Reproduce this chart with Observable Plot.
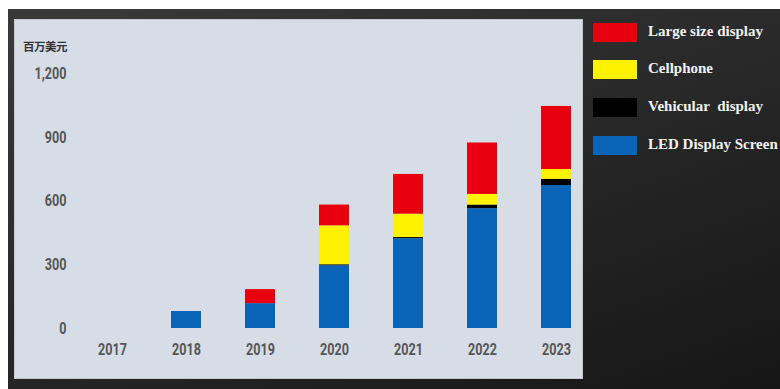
<!DOCTYPE html>
<html>
<head>
<meta charset="utf-8">
<script src="https://cdn.jsdelivr.net/npm/d3@7"></script>
<script src="https://cdn.jsdelivr.net/npm/@observablehq/plot@0.6"></script>
<style>
  html, body { margin: 0; padding: 0; background: #ffffff; }
  #page { position: relative; width: 780px; height: 389px; overflow: hidden; background: #ffffff; }
  #frame { position: absolute; left: 8px; top: 9px; width: 772px; height: 380px;
           background: linear-gradient(160deg, #3a3a3a 0%, #262626 55%, #161616 100%); }
  #panel { position: absolute; left: 15px; top: 20px; width: 567px; height: 358px;
           background: #d6dde7; box-shadow: 0 0 0 1px #c4c9d0; }
  #chart { position: absolute; left: 0; top: 0; width: 620px; height: 389px; }
  #ylabel { position: absolute; left: 23px; top: 38px; font-family: "Noto Sans CJK SC", sans-serif;
            font-weight: 700; font-size: 11.5px; color: #333; letter-spacing: -0.5px; }
  #legend { position: absolute; left: 593px; top: 23px; }
  .item { position: absolute; left: 0; height: 19px; white-space: pre; }
  .sw { position: absolute; left: 0; top: 0; width: 44px; height: 19px; }
  .lab { position: absolute; left: 55px; top: -1px; line-height: 19px; font-family: "Liberation Serif", "Times New Roman", serif;
         font-weight: 700; font-size: 15px; color: #f2f2f2; }
</style>
</head>
<body>
<div id="page">
  <div id="frame"></div>
  <div id="panel"></div>
  <div id="chart"></div>
  <div id="ylabel">百万美元</div>
  <div id="legend"></div>
</div>
<script>
const years = ["2017", "2018", "2019", "2020", "2021", "2022", "2023"];
const seriesNames = ["LED Display Screen", "Vehicular display", "Cellphone", "Large size display"];
const seriesColors = ["#0a64b8", "#000000", "#fff200", "#e8000e"];
const ledDisplay = [0, 80, 117, 295, 423, 564, 673];
const vehicular = [0, 0, 0, 5, 5, 17, 29];
const cellphone = [0, 0, 0, 183, 110, 50, 46];
const largeSize = [0, 0, 66, 98, 187, 242, 297];
const yTicks = [0, 300, 600, 900, 1200];
const legendOrder = ["Large size display", "Cellphone", "Vehicular display", "LED Display Screen"];
const legendLabels = ["Large size display", "Cellphone", "Vehicular  display", "LED Display Screen"];

const seriesValues = [ledDisplay, vehicular, cellphone, largeSize];
const data = [];
seriesNames.forEach((s, i) => {
  years.forEach((y, j) => data.push({year: y, series: s, value: seriesValues[i][j]}));
});

const tickFont = 'Roboto, "Liberation Sans", sans-serif';

const plot = Plot.plot({
  width: 620,
  height: 389,
  marginLeft: 60,
  marginRight: 12,
  marginTop: 73,
  marginBottom: 61,
  style: {background: "transparent", fontFamily: tickFont, fontSize: "17px", fontWeight: "700", color: "#555"},
  x: {domain: years, paddingInner: 0.6, paddingOuter: 0.5, label: null},
  y: {domain: [0, 1200], label: null},
  color: {domain: seriesNames, range: seriesColors},
  marks: [
    Plot.barY(data, {x: "year", y: "value", fill: "series", order: seriesNames}),
    Plot.axisY({ticks: yTicks, tickFormat: d3.format(","), tickSize: 0, tickPadding: 0, dx: 6, label: null, fill: "#555"}),
    Plot.axisX({tickSize: 0, tickPadding: 14, label: null, fill: "#555"})
  ]
});
document.getElementById("chart").appendChild(plot);

// condense tick labels horizontally, like the narrow font of the original
plot.querySelectorAll('g[aria-label$="tick label"] text').forEach(t => {
  const w = t.getComputedTextLength();
  t.setAttribute("textLength", (w * 0.74).toFixed(1));
  t.setAttribute("lengthAdjust", "spacingAndGlyphs");
});

const legend = document.getElementById("legend");
const tops = [0, 37, 75, 113];
legendOrder.forEach((name, i) => {
  const item = document.createElement("div");
  item.className = "item";
  item.style.top = tops[i] + "px";
  const sw = document.createElement("div");
  sw.className = "sw";
  sw.style.background = seriesColors[seriesNames.indexOf(name)];
  const lab = document.createElement("div");
  lab.className = "lab";
  lab.textContent = legendLabels[i];
  item.appendChild(sw);
  item.appendChild(lab);
  legend.appendChild(item);
});
</script>
</body>
</html>
